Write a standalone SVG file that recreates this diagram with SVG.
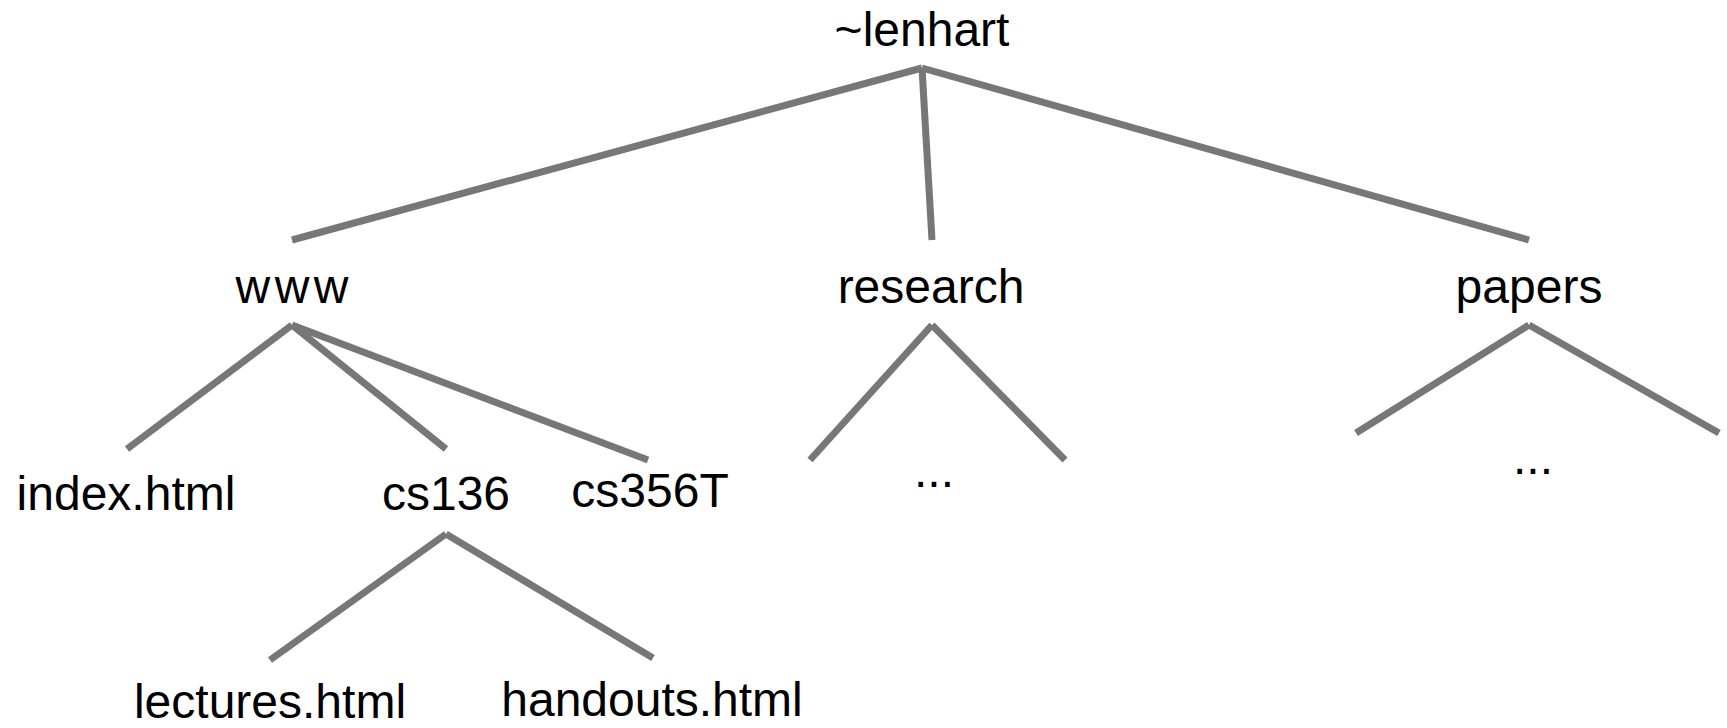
<svg xmlns="http://www.w3.org/2000/svg" width="1727" height="728" viewBox="0 0 1727 728">
<style>
text{font-family:"Liberation Sans",Arial,sans-serif;font-size:48px;fill:#000;text-anchor:middle}
.edge{stroke:#777;stroke-width:7;stroke-linecap:butt;fill:none}
</style>
<rect width="1727" height="728" fill="#fff"/>
<g id="connectors">
<line class="edge" x1="922" y1="68" x2="292" y2="240"/>
<line class="edge" x1="922" y1="68" x2="932" y2="240"/>
<line class="edge" x1="922" y1="68" x2="1529" y2="240"/>
<line class="edge" x1="292" y1="325" x2="127" y2="449"/>
<line class="edge" x1="292" y1="325" x2="446" y2="449"/>
<line class="edge" x1="292" y1="325" x2="648" y2="460"/>
<line class="edge" x1="932" y1="325" x2="810" y2="460"/>
<line class="edge" x1="932" y1="325" x2="1065" y2="460"/>
<line class="edge" x1="1529" y1="325" x2="1356" y2="433"/>
<line class="edge" x1="1529" y1="325" x2="1719" y2="433"/>
<line class="edge" x1="446" y1="534" x2="270" y2="660"/>
<line class="edge" x1="446" y1="534" x2="653" y2="658"/>
</g>
<g id="root"><text x="922" y="46">~lenhart</text></g>
<g id="www"><text x="292" y="303" textLength="113">www</text></g>
<g id="research"><text x="931" y="303">research</text></g>
<g id="papers"><text x="1529" y="303">papers</text></g>
<g id="research-more"><text x="934" y="487">...</text></g>
<g id="papers-more"><text x="1533" y="474">...</text></g>
<g id="index"><text x="126" y="510">index.html</text></g>
<g id="cs136"><text x="446" y="510">cs136</text></g>
<g id="cs356T"><text x="650" y="507">cs356T</text></g>
<g id="lectures"><text x="270" y="718">lectures.html</text></g>
<g id="handouts"><text x="652" y="716">handouts.html</text></g>
</svg>
